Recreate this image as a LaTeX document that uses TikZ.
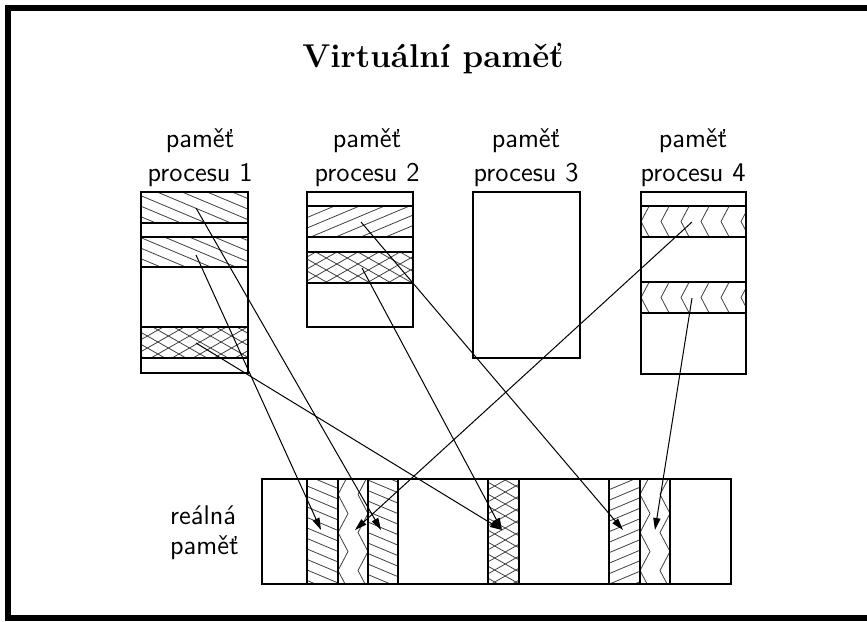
\documentclass[tikz,border=0pt]{standalone}
\usepackage{tikz}
\usetikzlibrary{arrows.meta}

\tikzset{
  ramec/.style={draw, line width=0.6pt},
  srafa/.style={black!75, line width=0.4pt},
  sipka/.style={-{Triangle[length=6pt,width=3.6pt]}, line width=0.5pt},
  popis/.style={font=\fontsize{13.5}{17}\selectfont\sffamily, align=center},
}

% sikme srafy: y = sklon*x + k*rozestup, orezane na obdelnik
\newcommand{\srafy}[6]{%
  \begin{scope}
    \clip (#1,#2) rectangle (#3,#4);
    \pgfmathtruncatemacro\kOd{floor((#2-max(#5*#1,#5*#3))/#6)}
    \pgfmathtruncatemacro\kDo{ceil((#4-min(#5*#1,#5*#3))/#6)}
    \foreach \k in {\kOd,...,\kDo}
      \draw[srafa] (#1,{#5*#1+(\k)*#6}) -- (#3,{#5*#3+(\k)*#6});
  \end{scope}}
% krizove srafy
\newcommand{\mrizka}[4]{\srafy{#1}{#2}{#3}{#4}{0.57}{12}\srafy{#1}{#2}{#3}{#4}{-0.57}{12}}
% svisle cik-cak sloupce
\newcommand{\cikcak}[4]{%
  \begin{scope}
    \clip (#1,#2) rectangle (#3,#4);
    \pgfmathtruncatemacro\nSl{ceil((#3-#1)/20)}
    \pgfmathtruncatemacro\nRad{ceil((#4-#2)/19)+1}
    \foreach \j in {0,...,\nSl}
      \draw[srafa] ({#1+20*\j},{#2+15.5-38})
        \foreach \i in {-1,...,\nRad} { -- ({#1+20*\j+10*mod(abs(\i),2)},{#2+15.5+19*\i}) };
  \end{scope}}

\begin{document}
\begin{tikzpicture}[x=0.5pt, y=-0.5pt, >=Triangle, line width=0.5pt]
    \useasboundingbox (0,0) rectangle (867,621);
    \draw[line width=3pt] (870,8) -- (8,8) -- (8,618) -- (870,618);
    \node[font=\fontsize{16.5}{20}\selectfont\bfseries, anchor=base] (nadpis) at (433,67) {Virtuální paměť};

    % popisky
    \node[popis] (l1) at (200,158) {paměť\\procesu 1};
    \node[popis] (l2) at (367,158) {paměť\\procesu 2};
    \node[popis] (l3) at (526,158) {paměť\\procesu 3};
    \node[popis] (l4) at (693,158) {paměť\\procesu 4};
    \node[popis, font=\fontsize{13.5}{15}\selectfont\sffamily, align=left, anchor=west] (lr) at (163,533) {reálná\\paměť};

    % proces 1
    \srafy{141}{192}{248}{223}{0.42}{10.5}
    \srafy{141}{237}{248}{267}{0.42}{10.5}
    \mrizka{141}{327}{248}{358}
    \draw[ramec] (141,192) rectangle (248,223);
    \draw[ramec] (141,237) rectangle (248,267);
    \draw[ramec] (141,327) rectangle (248,358);
    \draw[ramec] (141,192) rectangle (248,373);
    % proces 2
    \srafy{307}{206}{413}{237}{-0.42}{10.5}
    \mrizka{307}{252}{413}{283}
    \draw[ramec] (307,206) rectangle (413,237);
    \draw[ramec] (307,252) rectangle (413,283);
    \draw[ramec] (307,192) rectangle (413,327);
    % proces 3
    \draw[ramec] (473,192) rectangle (580,358);
    % proces 4
    \cikcak{641}{206}{746}{237}
    \cikcak{641}{282}{746}{313}
    \draw[ramec] (641,206) rectangle (746,237);
    \draw[ramec] (641,282) rectangle (746,313);
    \draw[ramec] (641,192) rectangle (746,374);

    % realna pamet
    \srafy{307}{479}{338}{584}{0.42}{10.5}
    \cikcak{338}{479}{368}{584}
    \srafy{368}{479}{398}{584}{0.42}{10.5}
    \mrizka{488}{479}{519}{584}
    \srafy{609}{479}{640}{584}{-0.42}{10.5}
    \cikcak{640}{479}{670}{584}
    \foreach \xa/\xb in {307/338, 338/368, 368/398, 488/519, 609/640, 640/670}
      \draw[ramec] (\xa,479) rectangle (\xb,584);
    \draw[ramec] (262,479) rectangle (731,584);

    % body v procesech a cile v realne pameti
    \coordinate (p1a) at (196,208);
    \coordinate (p1b) at (196,255);
    \coordinate (p1c) at (196,343);
    \coordinate (p2a) at (361,222);
    \coordinate (p2b) at (362,268);
    \coordinate (p4a) at (692,222);
    \coordinate (p4b) at (692,298);
    \coordinate (rA) at (321,530);
    \coordinate (rB) at (355,530);
    \coordinate (rC) at (381,530);
    \coordinate (rD) at (502,530);
    \coordinate (rE) at (623,530);
    \coordinate (rF) at (655,530);

    \draw[sipka] (p1a) -- (rC);
    \draw[sipka] (p1b) -- (rA);
    \draw[sipka] (p1c) -- (rD);
    \draw[sipka] (p2a) -- (rE);
    \draw[sipka] (p2b) -- (rD);
    \draw[sipka] (p4a) -- (rB);
    \draw[sipka] (p4b) -- (rF);
\end{tikzpicture}
\end{document}
